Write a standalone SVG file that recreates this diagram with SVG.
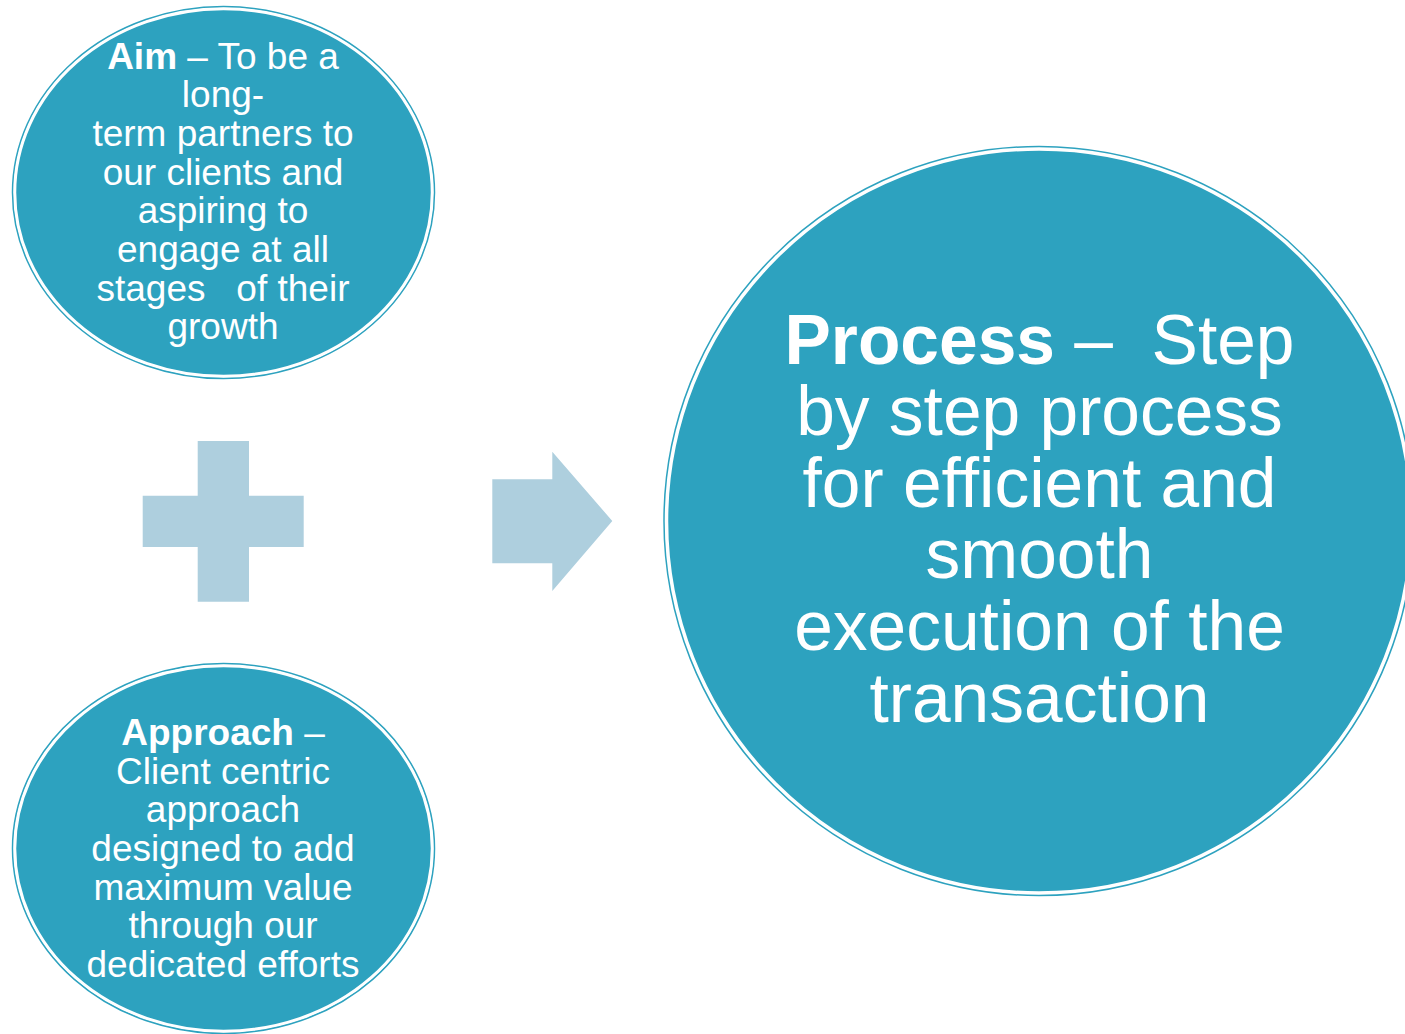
<svg xmlns="http://www.w3.org/2000/svg" width="1405" height="1034" viewBox="0 0 1405 1034">
<style>
.fill{fill:#2DA2BF;stroke:#FFFFFF;stroke-width:2.5}
.rim{fill:none;stroke:#2DA2BF;stroke-width:1.5}
.conn{fill:#AECFDE}
text{font-family:"Liberation Sans",Arial,sans-serif;fill:#FFFFFF;text-anchor:middle;white-space:pre}
.s{font-size:37px}
.b{font-size:69.5px}
.bold{font-weight:bold}
</style>
<rect width="1405" height="1034" fill="#FFFFFF"/>
<g id="aim">
<ellipse class="rim" cx="223.5" cy="192.5" rx="211" ry="186"/>
<ellipse class="fill" cx="223.5" cy="192.5" rx="208.5" ry="183.5"/>
<text class="s" x="223" y="68.5"><tspan class="bold">Aim</tspan> – To be a</text>
<text class="s" x="223" y="107">long-</text>
<text class="s" x="223" y="146">term partners to</text>
<text class="s" x="223" y="184.5">our clients and</text>
<text class="s" x="223" y="223">aspiring to</text>
<text class="s" x="223" y="262">engage at all</text>
<text class="s" x="223" y="300.5">stages   of their</text>
<text class="s" x="223" y="339">growth</text>
</g>
<g id="approach">
<ellipse class="rim" cx="223.5" cy="848.5" rx="211" ry="185"/>
<ellipse class="fill" cx="223.5" cy="848.5" rx="208.5" ry="182.5"/>
<text class="s" x="223" y="745"><tspan class="bold">Approach</tspan> –</text>
<text class="s" x="223" y="783.5">Client centric</text>
<text class="s" x="223" y="822">approach</text>
<text class="s" x="223" y="861">designed to add</text>
<text class="s" x="223" y="899.5">maximum value</text>
<text class="s" x="223" y="938">through our</text>
<text class="s" x="223" y="976.5">dedicated efforts</text>
</g>
<g id="process">
<ellipse class="rim" cx="1039" cy="521" rx="375" ry="374.5"/>
<ellipse class="fill" cx="1039" cy="521" rx="372" ry="371.5"/>
<text class="b" x="1039.5" y="363.5"><tspan class="bold">Process</tspan> –  Step</text>
<text class="b" x="1039.5" y="435">by step process</text>
<text class="b" x="1039.5" y="506.5">for efficient and</text>
<text class="b" x="1039.5" y="578">smooth</text>
<text class="b" x="1039.5" y="650">execution of the</text>
<text class="b" x="1039.5" y="721.5">transaction</text>
</g>
<g id="connectors">
<path id="plus" class="conn" d="M197.7,441 H249 V495.7 H303.7 V547 H249 V601.7 H197.7 V547 H142.7 V495.7 H197.7 Z"/>
<path id="arrow" class="conn" d="M492.3,479.3 H552.3 V451.7 L612.3,521 L552.3,591 V563.3 H492.3 Z"/>
</g>
</svg>
